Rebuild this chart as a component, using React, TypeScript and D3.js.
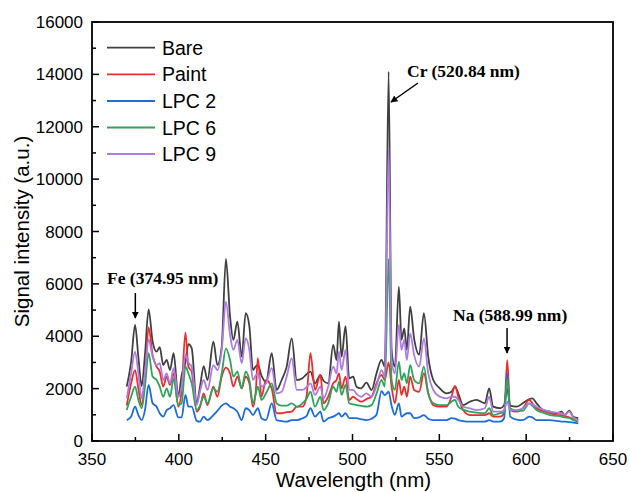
import React from "react";
import * as d3 from "d3";

const wavelengths = [370, 372.5, 374.8, 376.7, 378.6, 380.5, 382.6, 384.9, 387.2, 389, 391, 393, 394.9, 397, 399.7, 401.6, 403.8, 405.5, 407.4, 410.3, 412.2, 414.3, 416.5, 419.9, 422.2, 424.7, 427.1, 429.5, 431.4, 433.7, 436.2, 438.5, 440.6, 442.7, 444.3, 445.5, 447.6, 450.2, 453.5, 456.3, 459.2, 462.1, 465, 467.9, 471.2, 473.5, 475.8, 478.4, 481.5, 483.3, 486, 488.9, 490.8, 492.2, 493.7, 496, 498.1, 500.4, 502.3, 505, 508, 511, 513.8, 516.7, 518.6, 520.8, 522.5, 524.4, 526.7, 528.2, 529.8, 531.3, 533.2, 535.5, 538.4, 541.1, 543.6, 546.5, 550.3, 554.2, 557, 559, 560.9, 563.7, 567.6, 571.4, 576.2, 578.7, 581, 585, 587.3, 589.1, 590.8, 594.5, 598, 601.8, 603.5, 606, 609.8, 613.7, 617.5, 620.4, 622.3, 624.8, 627.1, 630];

const bare = [2075, 3000, 4430, 3200, 2100, 3300, 5030, 3800, 3410, 3580, 2900, 3100, 2710, 3350, 1690, 2500, 3000, 3700, 3550, 1450, 2075, 2860, 2330, 3790, 2900, 3600, 6950, 4750, 3860, 4560, 3220, 4880, 4390, 2710, 2850, 2900, 2500, 2250, 3350, 1950, 2330, 2840, 3920, 2330, 2400, 2550, 2650, 2200, 2520, 2300, 2200, 3670, 3090, 4560, 3220, 4390, 2390, 2460, 2075, 2010, 2230, 1950, 2580, 3100, 2840, 14100, 3480, 2840, 5890, 3860, 4300, 3480, 5130, 3900, 3300, 4880, 3220, 2330, 2010, 1820, 1880, 2075, 1820, 1370, 1500, 1570, 1440, 2010, 1310, 1250, 1370, 2000, 1350, 1310, 1440, 1600, 1630, 1440, 1180, 1120, 1060, 1120, 990, 1160, 930, 870];

const paint = [1350, 2200, 2710, 2000, 1370, 2400, 4340, 3280, 2840, 2650, 2075, 2460, 2140, 2580, 1310, 1950, 4140, 2840, 2650, 1120, 1300, 1820, 1370, 2075, 1690, 2460, 2800, 2580, 2075, 2460, 2010, 2460, 2200, 1300, 1900, 3160, 1690, 2330, 2000, 1060, 1060, 1100, 1120, 1310, 1310, 1690, 3350, 1950, 2520, 1440, 1690, 2200, 2330, 2580, 2010, 2460, 1570, 1690, 1600, 1500, 1600, 1690, 2200, 2520, 2330, 3000, 2075, 1440, 2330, 1760, 2075, 1690, 2460, 1950, 1880, 2580, 1820, 1370, 1310, 1310, 1690, 2100, 1690, 1180, 990, 990, 990, 1060, 930, 930, 1060, 3090, 1180, 1120, 1250, 1570, 1450, 1250, 1150, 1060, 990, 990, 950, 900, 850, 800];

const lpc2 = [800, 930, 1310, 990, 800, 1180, 2140, 1440, 1310, 1060, 930, 1180, 1250, 1370, 900, 900, 1760, 1310, 1310, 770, 740, 930, 800, 990, 1150, 1350, 1440, 1310, 1250, 1120, 800, 1250, 1180, 990, 1150, 1250, 870, 800, 1440, 800, 760, 740, 800, 800, 870, 950, 1250, 930, 1120, 740, 870, 930, 1000, 1060, 930, 1060, 870, 870, 870, 830, 800, 850, 1000, 1900, 1750, 1880, 1350, 1000, 1440, 930, 1000, 1060, 1060, 870, 900, 990, 850, 800, 800, 800, 870, 850, 800, 760, 740, 740, 740, 800, 740, 740, 870, 2580, 930, 820, 800, 930, 900, 800, 800, 800, 770, 740, 740, 720, 700, 670];

const lpc6 = [1180, 1690, 2075, 1570, 1250, 2075, 3350, 2460, 2330, 2075, 1690, 2010, 1690, 2390, 1370, 1440, 2840, 2580, 2200, 1180, 1350, 1690, 1440, 2010, 1880, 2580, 3540, 3090, 2460, 2650, 2010, 2650, 2330, 1440, 1800, 2075, 1570, 1820, 2200, 1440, 1350, 1350, 1440, 1310, 1440, 1600, 1880, 1310, 1690, 1180, 1440, 2075, 1880, 2270, 1760, 2140, 1440, 1400, 1370, 1340, 1310, 1370, 1800, 2330, 2075, 6950, 2330, 1950, 3030, 2330, 2580, 2200, 2900, 2330, 2200, 2840, 1820, 1440, 1370, 1370, 1500, 1570, 1310, 1200, 1120, 1080, 1060, 1250, 990, 1060, 1100, 2390, 1250, 1150, 1150, 1440, 1350, 1180, 1080, 990, 960, 930, 900, 880, 800, 740];

const lpc9 = [1630, 2580, 3410, 2580, 1630, 2580, 3880, 3220, 2900, 2970, 2330, 2580, 2200, 2780, 1690, 2075, 3300, 3000, 2840, 1370, 1900, 2330, 1950, 2900, 2710, 3480, 5320, 4050, 3480, 3860, 2970, 3920, 3480, 2330, 2500, 2580, 2075, 2200, 2780, 1820, 1880, 2460, 3160, 1950, 1950, 2050, 2200, 1760, 2075, 1630, 2075, 2840, 2580, 3410, 2710, 3480, 1950, 1950, 1800, 1690, 1820, 1690, 2100, 2710, 2460, 11200, 3090, 2580, 4430, 3480, 3860, 3090, 4110, 3280, 2840, 3920, 2580, 1950, 1690, 1630, 1690, 1690, 1570, 1310, 1250, 1180, 1250, 1690, 1120, 1120, 1180, 1500, 1180, 1180, 1250, 1440, 1400, 1310, 1200, 1120, 1080, 1060, 1000, 1120, 900, 800];

const seriesNames = ["Bare", "Paint", "LPC 2", "LPC 6", "LPC 9"];
const seriesValues = [bare, paint, lpc2, lpc6, lpc9];
const seriesColors = ["#404040", "#ec2d2d", "#1c6be0", "#2ea35a", "#ad7be3"];

const xTicks = [350, 400, 450, 500, 550, 600, 650];
const yTicks = [0, 2000, 4000, 6000, 8000, 10000, 12000, 14000, 16000];

const annotationLabels = ["Cr (520.84 nm)", "Fe (374.95 nm)", "Na (588.99 nm)"];

const W = 630;
const H = 493;
const M = { left: 92, right: 613, top: 22, bottom: 441 };

export default function App() {
  const x = d3.scaleLinear().domain([350, 650]).range([M.left, M.right]);
  const y = d3.scaleLinear().domain([0, 16000]).range([M.bottom, M.top]);

  const line = d3
    .line<number>()
    .x((_, i) => x(wavelengths[i]))
    .y((d) => y(d))
    .curve(d3.curveMonotoneX);

  const xMinor = d3.range(350, 651, 25).filter((v) => v % 50 !== 0);
  const yMinor = d3.range(1000, 16000, 2000);

  const sans = "'Liberation Sans', Arial, sans-serif";
  const serif = "'Liberation Serif', 'Times New Roman', serif";

  const legendY = [47.7, 74.3, 101, 127.5, 154];

  return (
    <svg
      width={W}
      height={H}
      style={{ position: "absolute", left: 0, top: 0, background: "#fff" }}
    >
      <defs>
        <marker
          id="arrowhead"
          viewBox="0 0 10 10"
          refX="9"
          refY="5"
          markerWidth="7"
          markerHeight="7"
          markerUnits="userSpaceOnUse"
          orient="auto"
        >
          <path d="M0,0 L10,5 L0,10 z" fill="#000" />
        </marker>
        <clipPath id="plotclip">
          <rect x={M.left} y={M.top} width={M.right - M.left} height={M.bottom - M.top} />
        </clipPath>
      </defs>

      <g clipPath="url(#plotclip)">
        {seriesValues.map((vals, k) => (
          <path
            key={seriesNames[k]}
            d={line(vals) || ""}
            fill="none"
            stroke={seriesColors[k]}
            strokeWidth={1.8}
            strokeLinejoin="round"
          />
        ))}
      </g>

      <rect
        x={M.left}
        y={M.top}
        width={M.right - M.left}
        height={M.bottom - M.top}
        fill="none"
        stroke="#000"
        strokeWidth={1.8}
      />

      {xTicks.map((t) => (
        <g key={"xt" + t}>
          <line x1={x(t)} x2={x(t)} y1={M.bottom} y2={M.bottom - 7} stroke="#000" strokeWidth={1.5} />
          <text x={x(t)} y={M.bottom + 24} textAnchor="middle" fontFamily={sans} fontSize={17} fill="#000">
            {t}
          </text>
        </g>
      ))}
      {xMinor.map((t) => (
        <line key={"xm" + t} x1={x(t)} x2={x(t)} y1={M.bottom} y2={M.bottom - 4} stroke="#000" strokeWidth={1.5} />
      ))}

      {yTicks.map((t) => (
        <g key={"yt" + t}>
          <line x1={M.left} x2={M.left + 7} y1={y(t)} y2={y(t)} stroke="#000" strokeWidth={1.5} />
          <text x={M.left - 9} y={y(t)} dy="0.36em" textAnchor="end" fontFamily={sans} fontSize={17} fill="#000">
            {t}
          </text>
        </g>
      ))}
      {yMinor.map((t) => (
        <line key={"ym" + t} x1={M.left} x2={M.left + 4} y1={y(t)} y2={y(t)} stroke="#000" strokeWidth={1.5} />
      ))}

      <text x={(M.left + M.right) / 2 + 1} y={487} textAnchor="middle" fontFamily={sans} fontSize={20.5} fill="#000">
        Wavelength (nm)
      </text>
      <text
        transform={`translate(29, ${(M.top + M.bottom) / 2}) rotate(-90)`}
        textAnchor="middle"
        fontFamily={sans}
        fontSize={20.5}
        fill="#000"
      >
        Signal intensity (a.u.)
      </text>

      {seriesNames.map((n, k) => (
        <g key={"lg" + n}>
          <line x1={107} x2={155} y1={legendY[k]} y2={legendY[k]} stroke={seriesColors[k]} strokeWidth={1.8} />
          <text x={162} y={legendY[k]} dy="0.36em" fontFamily={sans} fontSize={19.5} fill="#000">
            {n}
          </text>
        </g>
      ))}

      <text x={407} y={77} fontFamily={serif} fontWeight="bold" fontSize={17.5} fill="#000">
        {annotationLabels[0]}
      </text>
      <line x1={418} y1={83} x2={391} y2={102} stroke="#000" strokeWidth={1.5} markerEnd="url(#arrowhead)" />

      <text x={107} y={284} fontFamily={serif} fontWeight="bold" fontSize={17.5} fill="#000">
        {annotationLabels[1]}
      </text>
      <line x1={x(374.95)} y1={293} x2={x(374.95)} y2={318} stroke="#000" strokeWidth={1.5} markerEnd="url(#arrowhead)" />

      <text x={453} y={321} fontFamily={serif} fontWeight="bold" fontSize={17.5} fill="#000">
        {annotationLabels[2]}
      </text>
      <line x1={x(588.99)} y1={328} x2={x(588.99)} y2={353} stroke="#000" strokeWidth={1.5} markerEnd="url(#arrowhead)" />
    </svg>
  );
}
